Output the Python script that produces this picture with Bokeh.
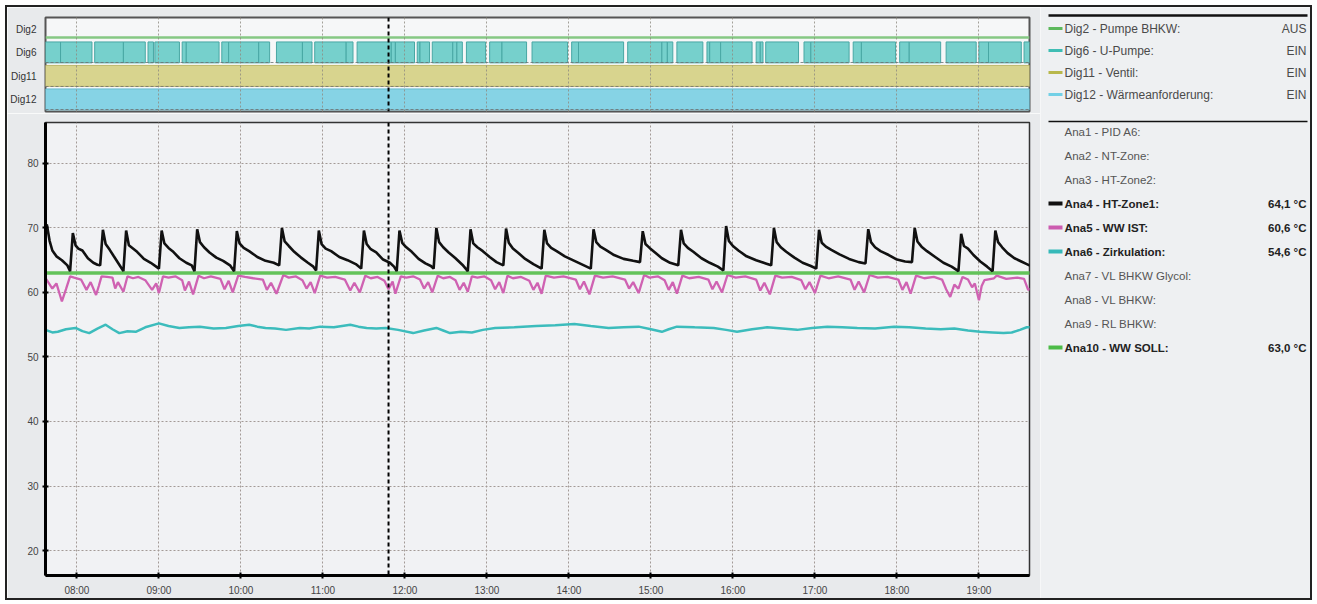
from bokeh.plotting import figure
from bokeh.models import ColumnDataSource, Range1d, FixedTicker, Span
from bokeh.layouts import row, column
from bokeh.embed import file_html
from bokeh.resources import INLINE
from bokeh.core.properties import value

# ---------------- data ----------------
x_start, x_end = "07:37", "19:37"
hour_ticks = ["08:00", "09:00", "10:00", "11:00", "12:00", "13:00", "14:00",
              "15:00", "16:00", "17:00", "18:00", "19:00"]
y_ticks = [20, 30, 40, 50, 60, 70, 80]
cursor_time = "11:48"

dig_rows = ["Dig12", "Dig11", "Dig6", "Dig2"]      # bottom -> top
dig2_off = [("07:37", "19:37")]
dig11_on = [("07:37", "19:37")]
dig12_on = [("07:37", "19:37")]
dig6_on = [
    ("07:37", "07:48"), ("07:48", "08:11"), ("08:13", "08:34"), ("08:34", "08:50"),
    ("08:52", "08:56"), ("08:57", "09:15"), ("09:17", "09:20"), ("09:20", "09:44"),
    ("09:46", "09:51"), ("09:51", "10:13"), ("10:13", "10:21"), ("10:26", "10:45"),
    ("10:45", "10:52"), ("10:54", "11:17"), ("11:17", "11:22"), ("11:25", "11:50"),
    ("11:50", "11:53"), ("11:53", "12:07"), ("12:09", "12:11"), ("12:11", "12:18"),
    ("12:20", "12:35"), ("12:35", "12:38"), ("12:38", "12:42"), ("12:45", "12:59"),
    ("13:02", "13:11"), ("13:11", "13:29"), ("13:33", "13:59"), ("14:02", "14:07"),
    ("14:07", "14:40"), ("14:43", "15:08"), ("15:08", "15:12"), ("15:12", "15:16"),
    ("15:19", "15:38"), ("15:41", "15:43"), ("15:43", "15:51"), ("15:51", "16:14"),
    ("16:17", "16:20"), ("16:20", "16:22"), ("16:24", "16:48"), ("16:52", "16:57"),
    ("16:57", "17:25"), ("17:28", "17:34"), ("17:34", "17:59"), ("18:02", "18:09"),
    ("18:09", "18:32"), ("18:36", "18:58"), ("19:00", "19:07"), ("19:07", "19:31"),
    ("19:33", "19:37"),
]

ana4 = [  # HT-Zone1
    ("07:37", 70.4), ("07:38", 70.5), ("07:40", 68.0), ("07:42", 66.5), ("07:45", 65.6), ("07:49", 65.0), ("07:53", 64.2), ("07:55", 63.3),
    ("07:57", 69.2), ("07:59", 67.3), ("08:01", 66.8), ("08:04", 66.5), ("08:08", 65.3), ("08:12", 64.6), ("08:15", 64.3), ("08:17", 64.2),
    ("08:19", 69.7), ("08:21", 67.5), ("08:24", 66.6), ("08:27", 65.6), ("08:31", 64.3), ("08:34", 63.3),
    ("08:36", 69.6), ("08:38", 67.3), ("08:41", 66.8), ("08:44", 66.3), ("08:49", 65.2), ("08:54", 64.6), ("08:58", 64.0), ("09:00", 63.7),
    ("09:02", 69.6), ("09:04", 67.6), ("09:07", 66.9), ("09:10", 66.4), ("09:15", 65.3), ("09:20", 64.6), ("09:24", 64.2), ("09:26", 63.3),
    ("09:28", 69.8), ("09:30", 67.8), ("09:33", 67.0), ("09:37", 66.2), ("09:42", 65.4), ("09:47", 64.9), ("09:52", 64.2), ("09:55", 63.3),
    ("09:57", 69.5), ("09:59", 67.6), ("10:02", 66.9), ("10:06", 66.4), ("10:12", 65.5), ("10:18", 64.9), ("10:24", 64.6), ("10:28", 64.2),
    ("10:30", 70.0), ("10:32", 67.9), ("10:35", 67.2), ("10:39", 66.3), ("10:44", 65.4), ("10:49", 64.6), ("10:53", 64.0), ("10:55", 63.4),
    ("10:57", 69.6), ("10:59", 67.5), ("11:02", 66.8), ("11:06", 66.4), ("11:12", 65.5), ("11:18", 65.0), ("11:24", 64.4), ("11:28", 63.7),
    ("11:30", 69.6), ("11:32", 67.5), ("11:35", 66.7), ("11:39", 66.2), ("11:44", 65.1), ("11:49", 64.6), ("11:52", 64.0), ("11:54", 63.3),
    ("11:56", 69.6), ("11:58", 67.7), ("12:01", 67.0), ("12:05", 66.3), ("12:10", 65.2), ("12:15", 64.5), ("12:19", 64.1), ("12:21", 63.7),
    ("12:23", 70.0), ("12:25", 67.8), ("12:28", 67.0), ("12:32", 66.2), ("12:37", 65.3), ("12:42", 64.3), ("12:46", 63.3),
    ("12:48", 69.8), ("12:50", 67.6), ("12:53", 67.0), ("12:57", 66.4), ("13:02", 65.5), ("13:07", 64.7), ("13:12", 64.2),
    ("13:14", 69.9), ("13:16", 67.7), ("13:19", 66.8), ("13:23", 66.1), ("13:28", 65.2), ("13:34", 64.4), ("13:40", 63.7),
    ("13:42", 69.7), ("13:44", 67.6), ("13:47", 66.9), ("13:51", 66.4), ("13:57", 65.6), ("14:04", 64.9), ("14:11", 64.2), ("14:16", 63.7),
    ("14:18", 69.8), ("14:20", 67.8), ("14:23", 67.1), ("14:27", 66.6), ("14:33", 65.8), ("14:40", 65.2), ("14:47", 64.9), ("14:52", 64.7),
    ("14:54", 69.5), ("14:56", 67.5), ("14:59", 66.9), ("15:03", 66.2), ("15:08", 65.3), ("15:14", 64.6), ("15:20", 64.2),
    ("15:22", 69.7), ("15:24", 67.6), ("15:27", 66.9), ("15:31", 66.3), ("15:37", 65.3), ("15:43", 64.6), ("15:49", 64.0), ("15:53", 63.4),
    ("15:55", 70.3), ("15:57", 68.0), ("16:00", 67.2), ("16:04", 66.5), ("16:10", 65.6), ("16:17", 65.0), ("16:24", 64.5), ("16:28", 64.2),
    ("16:30", 70.0), ("16:32", 67.8), ("16:35", 67.0), ("16:39", 66.3), ("16:45", 65.4), ("16:51", 64.6), ("16:57", 64.1), ("17:01", 63.7),
    ("17:03", 69.7), ("17:05", 67.7), ("17:08", 67.1), ("17:12", 66.6), ("17:18", 65.9), ("17:25", 65.2), ("17:32", 64.7), ("17:37", 64.5),
    ("17:39", 69.8), ("17:41", 67.8), ("17:44", 67.0), ("17:48", 66.4), ("17:54", 65.8), ("18:00", 65.1), ("18:06", 64.8), ("18:11", 64.7),
    ("18:13", 70.0), ("18:15", 67.9), ("18:18", 67.1), ("18:22", 66.4), ("18:28", 65.5), ("18:34", 64.6), ("18:40", 64.0), ("18:45", 63.3),
    ("18:47", 69.1), ("18:49", 67.2), ("18:52", 66.8), ("18:56", 65.8), ("19:01", 64.8), ("19:06", 64.0), ("19:10", 63.3),
    ("19:12", 69.6), ("19:14", 67.8), ("19:17", 67.0), ("19:21", 66.1), ("19:26", 65.3), ("19:31", 64.8), ("19:35", 64.4), ("19:38", 64.1),
]

ana5 = [  # WW IST
    ("07:37", 62.2), ("07:38", 61.9), ("07:42", 60.6), ("07:45", 61.4), ("07:49", 58.6), ("07:52", 60.5), ("07:55", 62.5),
    ("07:58", 62.3), ("08:03", 62.0), ("08:07", 60.4), ("08:10", 61.6), ("08:14", 59.6), ("08:16", 61.0), ("08:18", 62.5),
    ("08:22", 62.4), ("08:26", 62.3), ("08:28", 60.6), ("08:30", 61.6), ("08:34", 60.1), ("08:37", 62.5),
    ("08:41", 62.2), ("08:45", 62.4), ("08:50", 61.9), ("08:55", 60.4), ("08:58", 61.4), ("09:00", 59.9), ("09:03", 62.5),
    ("09:07", 62.3), ("09:12", 62.5), ("09:17", 61.9), ("09:19", 60.3), ("09:22", 61.7), ("09:25", 59.7), ("09:29", 62.6),
    ("09:33", 62.2), ("09:38", 62.5), ("09:45", 62.1), ("09:48", 60.5), ("09:51", 61.8), ("09:54", 60.0), ("09:58", 62.6),
    ("10:03", 62.4), ("10:09", 62.2), ("10:16", 62.0), ("10:19", 60.4), ("10:22", 61.5), ("10:26", 59.8), ("10:31", 62.7),
    ("10:35", 62.3), ("10:40", 62.5), ("10:45", 61.9), ("10:48", 60.6), ("10:51", 61.6), ("10:54", 59.9), ("10:58", 62.6),
    ("11:03", 62.3), ("11:09", 62.4), ("11:16", 62.0), ("11:20", 60.3), ("11:23", 61.5), ("11:27", 60.0), ("11:31", 62.6),
    ("11:35", 62.2), ("11:40", 62.4), ("11:45", 61.8), ("11:48", 60.5), ("11:51", 61.7), ("11:53", 59.8), ("11:57", 62.5),
    ("12:01", 62.3), ("12:06", 62.5), ("12:11", 62.0), ("12:14", 60.6), ("12:17", 61.6), ("12:20", 60.0), ("12:24", 62.6),
    ("12:28", 62.2), ("12:33", 62.4), ("12:37", 61.9), ("12:40", 60.4), ("12:43", 61.5), ("12:46", 60.1), ("12:49", 62.5),
    ("12:53", 62.3), ("12:58", 62.5), ("13:03", 61.9), ("13:06", 60.5), ("13:09", 61.6), ("13:12", 59.9), ("13:15", 62.6),
    ("13:19", 62.2), ("13:25", 62.4), ("13:31", 61.8), ("13:34", 60.4), ("13:37", 61.5), ("13:40", 59.8), ("13:43", 62.6),
    ("13:49", 62.3), ("13:56", 62.5), ("14:05", 62.0), ("14:08", 60.5), ("14:11", 61.7), ("14:15", 59.7), ("14:19", 62.6),
    ("14:25", 62.3), ("14:32", 62.5), ("14:41", 62.0), ("14:44", 60.6), ("14:47", 61.6), ("14:51", 59.9), ("14:55", 62.7),
    ("14:59", 62.3), ("15:05", 62.5), ("15:10", 61.9), ("15:13", 60.4), ("15:16", 61.6), ("15:19", 59.8), ("15:23", 62.6),
    ("15:28", 62.2), ("15:35", 62.4), ("15:42", 62.0), ("15:45", 60.5), ("15:48", 61.7), ("15:52", 60.0), ("15:56", 62.7),
    ("16:02", 62.3), ("16:09", 62.5), ("16:17", 62.0), ("16:20", 60.3), ("16:23", 61.5), ("16:27", 59.7), ("16:31", 62.6),
    ("16:36", 62.3), ("16:43", 62.4), ("16:50", 61.9), ("16:53", 60.5), ("16:56", 61.6), ("17:00", 59.9), ("17:04", 62.6),
    ("17:10", 62.2), ("17:17", 62.5), ("17:26", 62.0), ("17:29", 60.4), ("17:32", 61.7), ("17:36", 60.0), ("17:40", 62.7),
    ("17:46", 62.3), ("17:53", 62.4), ("18:01", 62.0), ("18:04", 60.4), ("18:07", 61.6), ("18:10", 59.8), ("18:14", 62.6),
    ("18:20", 62.2), ("18:27", 62.4), ("18:33", 62.0), ("18:36", 60.5), ("18:39", 59.3), ("18:42", 61.2), ("18:45", 60.6), ("18:48", 62.4),
    ("18:52", 62.0), ("18:55", 60.8), ("18:57", 61.4), ("19:00", 58.8), ("19:02", 61.0), ("19:04", 61.9), ("19:11", 62.2),
    ("19:13", 62.6), ("19:20", 62.1), ("19:28", 62.3), ("19:33", 62.1), ("19:36", 60.4), ("19:38", 60.6),
]

ana6 = [  # Zirkulation
    ("07:37", 54.2), ("07:42", 53.8), ("07:46", 53.9), ("07:52", 54.3), ("07:59", 54.5), ("08:04", 54.0),
    ("08:09", 53.7), ("08:15", 54.4), ("08:21", 55.0), ("08:26", 54.3), ("08:31", 53.7), ("08:37", 54.0),
    ("08:43", 53.9), ("08:50", 54.6), ("09:00", 55.2), ("09:07", 54.8), ("09:15", 54.5), ("09:22", 54.6),
    ("09:30", 54.7), ("09:40", 54.4), ("09:49", 54.5), ("09:58", 54.8), ("10:06", 55.0), ("10:12", 54.7),
    ("10:18", 54.5), ("10:25", 54.4), ("10:33", 54.2), ("10:43", 54.5), ("10:50", 54.4), ("10:58", 54.7),
    ("11:08", 54.6), ("11:20", 55.0), ("11:26", 54.7), ("11:32", 54.5), ("11:39", 54.4), ("11:46", 54.5),
    ("11:55", 54.2), ("12:06", 53.7), ("12:14", 54.1), ("12:23", 54.5), ("12:28", 54.1), ("12:33", 53.7),
    ("12:41", 53.9), ("12:49", 53.8), ("12:57", 54.2), ("13:06", 54.5), ("13:20", 54.6), ("13:36", 54.8),
    ("13:50", 54.9), ("14:04", 55.1), ("14:16", 54.8), ("14:29", 54.5), ("14:40", 54.6), ("14:51", 54.7),
    ("15:00", 54.3), ("15:08", 53.9), ("15:13", 54.3), ("15:19", 54.7), ("15:32", 54.6), ("15:46", 54.5),
    ("15:55", 54.2), ("16:03", 53.9), ("16:14", 54.3), ("16:25", 54.6), ("16:36", 54.4), ("16:47", 54.2),
    ("16:58", 54.5), ("17:09", 54.7), ("17:20", 54.6), ("17:31", 54.5), ("17:44", 54.4), ("17:58", 54.7),
    ("18:09", 54.6), ("18:21", 54.4), ("18:32", 54.3), ("18:42", 54.4), ("18:52", 54.1), ("19:01", 53.9),
    ("19:10", 53.8), ("19:18", 53.7), ("19:24", 53.8), ("19:30", 54.2), ("19:35", 54.6), ("19:38", 54.6),
]

ana10 = [("07:37", 63.0), ("19:38", 63.0)]  # WW SOLL

dig_legend = ["Dig2 - Pumpe BHKW:", "Dig6 - U-Pumpe:", "Dig11 - Ventil:", "Dig12 - Wärmeanforderung:"]
dig_state = ["AUS", "EIN", "EIN", "EIN"]
dig_colors = ["#5cb85c", "#3fbdb4", "#b8b84c", "#72d0e6"]

ana_legend = ["Ana1 - PID A6:", "Ana2 - NT-Zone:", "Ana3 - HT-Zone2:", "Ana4 - HT-Zone1:",
              "Ana5 - WW IST:", "Ana6 - Zirkulation:", "Ana7 - VL BHKW Glycol:",
              "Ana8 - VL BHKW:", "Ana9 - RL BHKW:", "Ana10 - WW SOLL:"]
ana_value = ["", "", "", "64,1 °C", "60,6 °C", "54,6 °C", "", "", "", "63,0 °C"]
ana_colors = [None, None, None, "#111111", "#cc5cb0", "#36b9b9", None, None, None, "#4cbb47"]


# ---------------- helpers ----------------
def tm(s):
    h, m = s.split(":")
    return int(h) * 60 + int(m)


FONT = value("Liberation Sans")
BG_OUT = "#e8eaec"
GRID_C = "#a39a96"

xr = Range1d(tm(x_start), tm(x_end))
hour_pos = [tm(h) for h in hour_ticks]

# ---------------- digital panel ----------------
d = figure(width=1033, height=106, x_range=xr, y_range=Range1d(0, 4),
           output_backend="svg", toolbar_location=None,
           min_border_left=38, min_border_right=11, min_border_top=10, min_border_bottom=2,
           x_axis_location=None)
d.background_fill_color = "#f6f7f8"
d.border_fill_color = BG_OUT
d.outline_line_color = "#555555"
d.outline_line_width = 2

d.yaxis.ticker = FixedTicker(ticks=[0.5, 1.5, 2.5, 3.5])
d.yaxis.major_label_overrides = {0.5: dig_rows[0], 1.5: dig_rows[1], 2.5: dig_rows[2], 3.5: dig_rows[3]}
d.yaxis.axis_line_color = None
d.yaxis.major_tick_line_color = None
d.yaxis.minor_tick_line_color = None
d.yaxis.major_label_standoff = 3
d.yaxis.major_label_text_font = "Liberation Sans"
d.yaxis.major_label_text_font_size = "10px"
d.yaxis.major_label_text_color = "#333333"

d.xgrid.ticker = FixedTicker(ticks=hour_pos)
d.xgrid.grid_line_color = "#8f8a80"
d.xgrid.grid_line_alpha = 0.8
d.xgrid.grid_line_dash = "2 2"
d.ygrid.ticker = FixedTicker(ticks=[0.07, 1.06, 2.08])
d.ygrid.grid_line_color = "#6f6f6f"
d.ygrid.grid_line_alpha = 0.8
d.ygrid.grid_line_dash = "3 2"
d.xgrid.level = "overlay"
d.ygrid.level = "overlay"


def blocks(intervals, base):
    return ColumnDataSource(dict(
        left=[tm(a) for a, b in intervals], right=[tm(b) for a, b in intervals],
        bottom=[base + 0.07] * len(intervals), top=[base + 0.96] * len(intervals)))


d.quad(source=blocks(dig12_on, 0), left="left", right="right", bottom="bottom", top="top",
       fill_color="#86d3e5", line_color="#68bccf", line_width=1)
d.quad(source=blocks(dig11_on, 1), left="left", right="right", bottom="bottom", top="top",
       fill_color="#d8d48e", line_color="#bdb86c", line_width=1)
d.quad(source=blocks(dig6_on, 2), left="left", right="right", bottom="bottom", top="top",
       fill_color="#76d0cc", line_color="#48a7a4", line_width=1)
d.segment(x0=[tm(a) for a, b in dig2_off], x1=[tm(b) for a, b in dig2_off],
          y0=[3.15] * len(dig2_off), y1=[3.15] * len(dig2_off), line_color="#86c884", line_width=2.5)
d.add_layout(Span(location=tm(cursor_time), dimension="height", line_color="black",
                  line_width=2, line_dash="4 3"))

# ---------------- main chart ----------------
p = figure(width=1033, height=485, x_range=xr, y_range=Range1d(16.13, 86.34),
           output_backend="svg", toolbar_location=None,
           min_border_left=38, min_border_right=11, min_border_top=9, min_border_bottom=22)
p.background_fill_color = "#f1f2f4"
p.border_fill_color = BG_OUT
p.outline_line_color = "#333333"
p.outline_line_width = 1.5

for ax in (p.xaxis, p.yaxis):
    ax.axis_line_width = 3
    ax.axis_line_color = "black"
    ax.major_tick_in = 3
    ax.major_tick_out = 3
    ax.major_tick_line_width = 2
    ax.major_tick_line_color = "black"
    ax.minor_tick_line_color = None
    ax.major_label_text_font = "Liberation Sans"
    ax.major_label_text_font_size = "10px"
    ax.major_label_text_color = "#444444"
    ax.major_label_standoff = 4
p.xaxis.major_label_standoff = 6

p.xaxis.ticker = FixedTicker(ticks=hour_pos)
p.xaxis.major_label_overrides = {tm(h): h for h in hour_ticks}
p.yaxis.ticker = FixedTicker(ticks=y_ticks)

p.xgrid.ticker = FixedTicker(ticks=hour_pos)
p.ygrid.ticker = FixedTicker(ticks=y_ticks)
for g in (p.xgrid, p.ygrid):
    g.grid_line_color = GRID_C
    g.grid_line_dash = "2 2"
    g.grid_line_width = 1


def series(pts):
    return [tm(a) for a, _ in pts], [v for _, v in pts]


x6, y6 = series(ana6)
p.line(x6, y6, line_color="#3cbcbc", line_width=2.5)
x5, y5 = series(ana5)
p.line(x5, y5, line_color="#cf62b2", line_width=2.3)
x10, y10 = series(ana10)
p.line(x10, y10, line_color="#63c35a", line_width=3.5)
x4, y4 = series(ana4)
p.line(x4, y4, line_color="#111111", line_width=2.6)

p.add_layout(Span(location=tm(cursor_time), dimension="height", line_color="black",
                  line_width=2, line_dash="4 3"))

# ---------------- legend panel ----------------
LW, LH = 270, 591
L = figure(width=LW, height=LH, x_range=Range1d(0, LW), y_range=Range1d(LH, 0),
           output_backend="svg", toolbar_location=None,
           x_axis_location=None, y_axis_location=None, min_border=0)
L.grid.visible = False
L.background_fill_color = "#eef0f2"
L.border_fill_color = "#eef0f2"
L.outline_line_color = None

sw_x0, sw_x1, txt_x, val_x = 8, 22, 24, 266
dig_y = [21 + 22 * i for i in range(len(dig_legend))]
ana_y = [124 + 24 * i for i in range(len(ana_legend))]

L.segment(x0=[sw_x0, sw_x0], x1=[val_x + 1, val_x + 1], y0=[8, 114], y1=[8, 114],
          line_color="#111111", line_width=[2.5, 1.5])
L.segment(x0=[sw_x0] * 4, x1=[sw_x1] * 4, y0=dig_y, y1=dig_y, line_color=dig_colors, line_width=3)
L.text(x=[txt_x] * 4, y=dig_y, text=dig_legend, text_font=FONT, text_font_size="12px",
       text_color="#4a4a4a", text_baseline="middle")
L.text(x=[val_x] * 4, y=dig_y, text=dig_state, text_font=FONT, text_font_size="12px",
       text_color="#4a4a4a", text_baseline="middle", text_align="right")

on = [i for i, c in enumerate(ana_colors) if c]
off = [i for i, c in enumerate(ana_colors) if not c]
L.segment(x0=[sw_x0] * len(on), x1=[sw_x1] * len(on), y0=[ana_y[i] for i in on],
          y1=[ana_y[i] for i in on], line_color=[ana_colors[i] for i in on], line_width=4)
L.text(x=[txt_x] * len(off), y=[ana_y[i] for i in off], text=[ana_legend[i] for i in off],
       text_font=FONT, text_font_size="11.5px", text_color="#555555", text_baseline="middle")
L.text(x=[txt_x] * len(on), y=[ana_y[i] for i in on], text=[ana_legend[i] for i in on],
       text_font=FONT, text_font_size="11.5px", text_font_style="bold", text_color="#222222",
       text_baseline="middle")
L.text(x=[val_x] * len(on), y=[ana_y[i] for i in on], text=[ana_value[i] for i in on],
       text_font=FONT, text_font_size="11.5px", text_font_style="bold", text_color="#222222",
       text_baseline="middle", text_align="right")

layout = row(column(d, p), L, styles={"border": "2px solid #222222", "margin": "5px 0 0 5px"})
open("out.html", "w").write(file_html(layout, INLINE))
